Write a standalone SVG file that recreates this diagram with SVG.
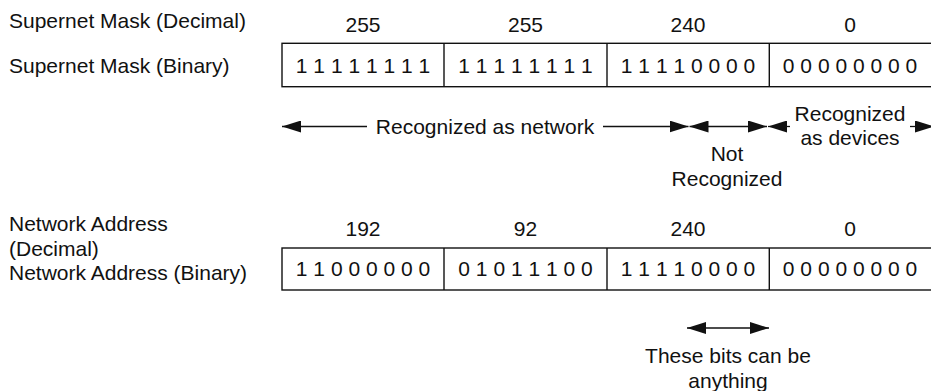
<svg xmlns="http://www.w3.org/2000/svg" width="931" height="391" viewBox="0 0 931 391">
<defs>
<style>
text{font-family:"Liberation Sans",Arial,Helvetica,sans-serif;font-size:21px;fill:#111}
.m{text-anchor:middle}
.box{fill:#fff;stroke:#111;stroke-width:1.4}
.div{stroke:#111;stroke-width:1.4}
.ar{stroke:#111;stroke-width:1.3;fill:none}
.ae{marker-end:url(#ah)}
.ab{marker-start:url(#ah);marker-end:url(#ah)}
</style>
<marker id="ah" viewBox="0 0 19 12" refX="19" refY="6" markerWidth="19" markerHeight="12" markerUnits="userSpaceOnUse" orient="auto-start-reverse">
<path d="M0,0 L19,6 L0,12 z" fill="#111"/>
</marker>
</defs>
<rect width="931" height="391" fill="#fff"/>

<g id="labels">
<text x="9" y="28">Supernet Mask (Decimal)</text>
<text x="9" y="73">Supernet Mask (Binary)</text>
<text x="9" y="231">Network Address</text>
<text x="9" y="255.5">(Decimal)</text>
<text x="9" y="280">Network Address (Binary)</text>
</g>

<g id="mask">
<rect class="box" x="282" y="43.3" width="650" height="43.4"/>
<line class="div" x1="444" y1="43.3" x2="444" y2="86.7"/>
<line class="div" x1="607" y1="43.3" x2="607" y2="86.7"/>
<line class="div" x1="769.3" y1="43.3" x2="769.3" y2="86.7"/>
<text class="m" x="363" y="32">255</text>
<text class="m" x="525.5" y="32">255</text>
<text class="m" x="688" y="32">240</text>
<text class="m" x="850" y="32">0</text>
<text class="m" x="363" y="73">1 1 1 1 1 1 1 1</text>
<text class="m" x="525.5" y="73">1 1 1 1 1 1 1 1</text>
<text class="m" x="688" y="73">1 1 1 1 0 0 0 0</text>
<text class="m" x="850" y="73">0 0 0 0 0 0 0 0</text>
</g>

<g id="address">
<rect class="box" x="282" y="248" width="650" height="42"/>
<line class="div" x1="444" y1="248" x2="444" y2="290"/>
<line class="div" x1="607" y1="248" x2="607" y2="290"/>
<line class="div" x1="769.3" y1="248" x2="769.3" y2="290"/>
<text class="m" x="363" y="236">192</text>
<text class="m" x="525.5" y="236">92</text>
<text class="m" x="688" y="236">240</text>
<text class="m" x="850" y="236">0</text>
<text class="m" x="363" y="276">1 1 0 0 0 0 0 0</text>
<text class="m" x="525.5" y="276">0 1 0 1 1 1 0 0</text>
<text class="m" x="688" y="276">1 1 1 1 0 0 0 0</text>
<text class="m" x="850" y="276">0 0 0 0 0 0 0 0</text>
</g>

<g id="network-label">
<text class="m" x="485" y="134">Recognized as network</text>
</g>
<g id="not-recognized-label">
<text class="m" x="727" y="161">Not</text>
<text class="m" x="727" y="186">Recognized</text>
</g>
<g id="devices-label">
<text class="m" x="850" y="121">Recognized</text>
<text class="m" x="850" y="145">as devices</text>
</g>
<g id="anything-label">
<text class="m" x="728" y="363">These bits can be</text>
<text class="m" x="728" y="388">anything</text>
</g>

<g id="connectors">
<line class="ar ae" x1="367" y1="126.5" x2="282" y2="126.5"/>
<line class="ar ae" x1="603" y1="126.5" x2="688.5" y2="126.5"/>
<line class="ar ab" x1="689.5" y1="126.5" x2="767" y2="126.5"/>
<line class="ar ae" x1="790" y1="126.5" x2="768" y2="126.5"/>
<line class="ar ae" x1="910" y1="126.5" x2="934" y2="126.5"/>
<line class="ar ab" x1="687" y1="328" x2="769" y2="328"/>
</g>
</svg>
